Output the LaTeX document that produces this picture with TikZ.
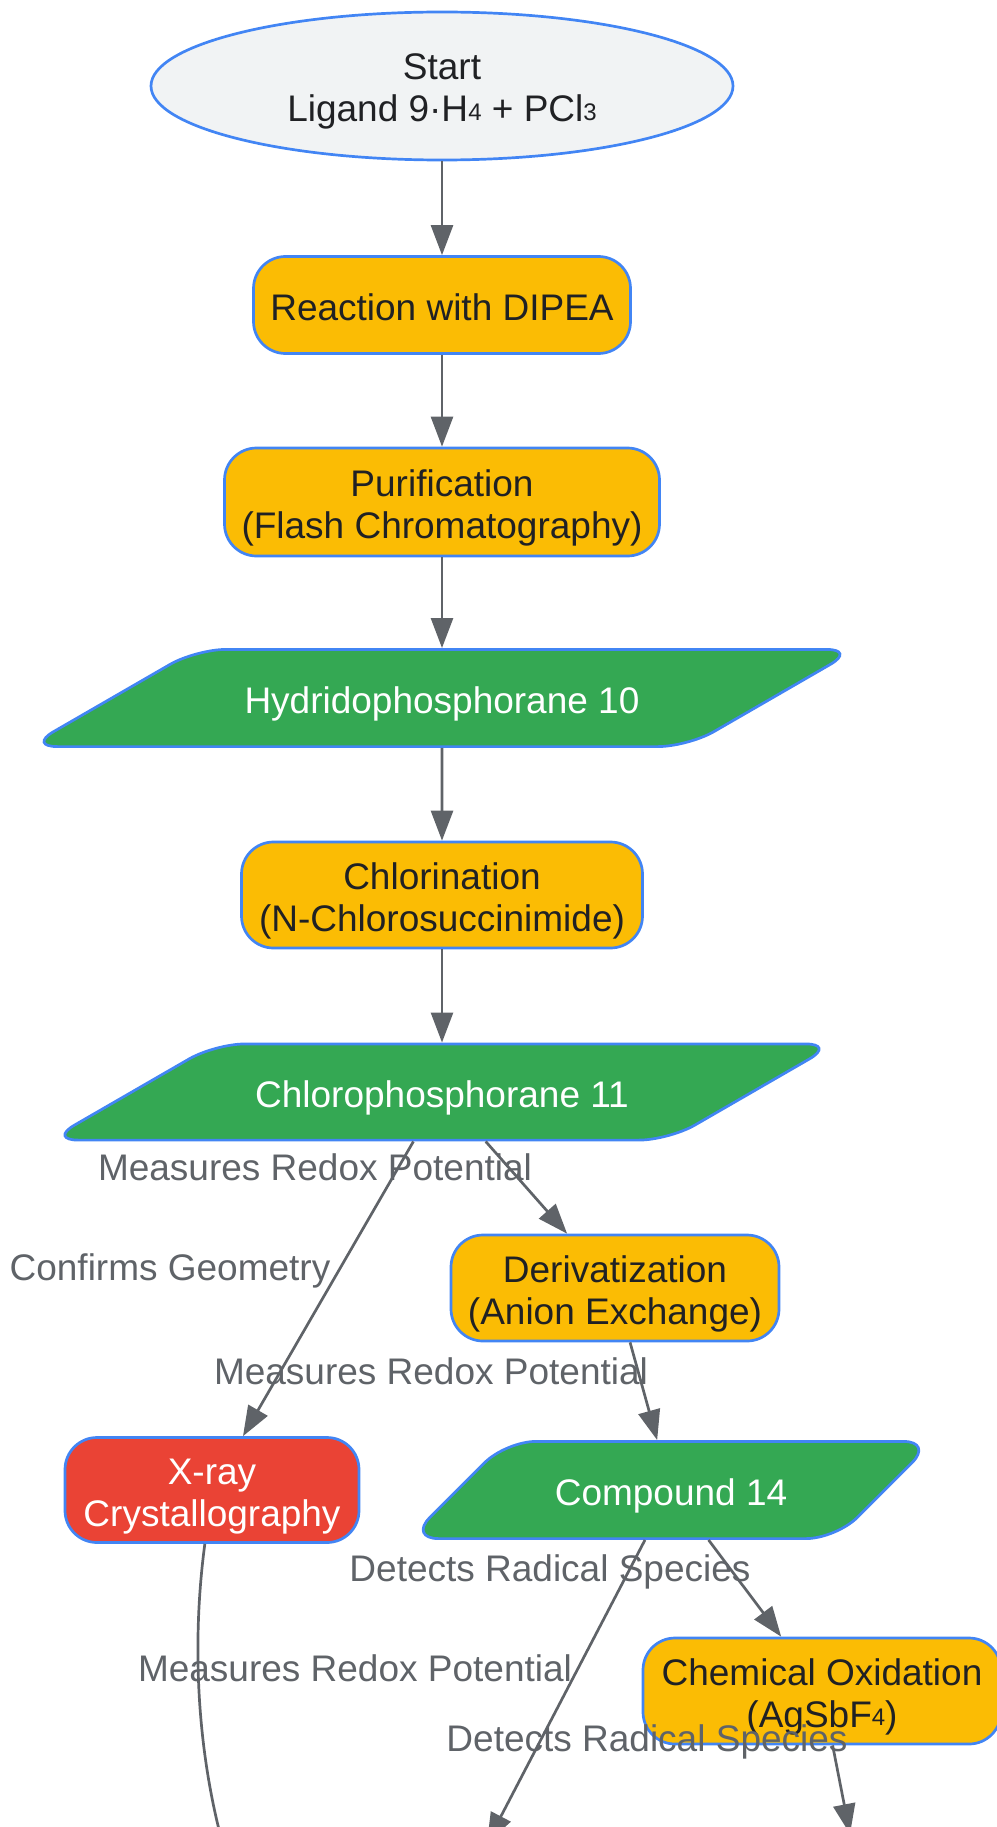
\documentclass[tikz,border=0pt]{standalone}
\usepackage{fontspec}
\setmainfont{Liberation Sans}
\usepackage{tikz}
\usetikzlibrary{arrows.meta,shapes.geometric}

\definecolor{nodeblue}{HTML}{4285F4}
\definecolor{stepyellow}{HTML}{FBBC04}
\definecolor{prodgreen}{HTML}{34A853}
\definecolor{xrayred}{HTML}{EA4335}
\definecolor{startgrey}{HTML}{F1F3F4}
\definecolor{edgegrey}{HTML}{5F6368}
\definecolor{textdark}{HTML}{202124}

\newcommand{\smallsub}[1]{\raisebox{0.1ex}{\fontsize{24}{24}\selectfont #1}}
\newcommand{\linestrut}{\rule[-8.2pt]{0pt}{42pt}}
\newcommand{\onestrut}{\rule[-8pt]{0pt}{46.6pt}}
\newcommand{\twostrut}{\rule[-8pt]{0pt}{88.2pt}}

\begin{document}
\begin{tikzpicture}[->,>={Triangle[length=30pt,width=22pt]},x=1pt,y=-1pt,line width=2.7pt,
  font=\fontsize{37}{42}\selectfont]
  \tikzstyle{every node}=[inner sep=0pt,align=center,execute at begin node=\linestrut]
  \tikzstyle{every edge}=[draw,edgegrey]
  \tikzstyle{startnode}=[ellipse,draw=nodeblue,fill=startgrey,text=textdark,minimum width=582pt,minimum height=148pt,
    execute at begin node=\twostrut]
  \tikzstyle{stepbox}=[rectangle,rounded corners=32pt,draw=nodeblue,fill=stepyellow,text=textdark,minimum height=106pt]
  \tikzstyle{process}=[stepbox,execute at begin node=\twostrut]
  \tikzstyle{product}=[trapezium,trapezium left angle=30,trapezium right angle=150,
    rounded corners=30pt,draw=nodeblue,fill=prodgreen,text=white,inner ysep=25.2pt,execute at begin node=\onestrut]
  \tikzstyle{analysis}=[process,fill=xrayred,text=white]
  \tikzstyle{edgelabel}=[text=edgegrey]

  \useasboundingbox (0,0) rectangle (996,1827);

  \node[startnode] (start) at (442,86) {Start\\Ligand 9·H\smallsub{4} + PCl\smallsub{3}};
  \node[stepbox,minimum width=377pt,minimum height=97pt,execute at begin node=\onestrut] (react) at (442,305) {Reaction with DIPEA};
  \node[process,minimum width=435pt,minimum height=108pt] (purif) at (442,502) {Purification\\(Flash Chromatography)};
  \node[product,inner xsep=48.5pt] (hydrido) at (442,698) {Hydridophosphorane 10};
  \node[process,minimum width=401pt] (chlorin) at (442,895) {Chlorination\\(N-Chlorosuccinimide)};
  \node[product,inner xsep=40pt,inner ysep=24.7pt] (chloro) at (442,1092) {Chlorophosphorane 11};
  \node[process,minimum width=328pt] (deriv) at (615,1288) {Derivatization\\(Anion Exchange)};
  \node[analysis,minimum width=294pt,minimum height=105pt] (xray) at (212,1490) {X-ray\\Crystallography};
  \node[product,trapezium left angle=45,trapezium right angle=135,inner xsep=48.9pt] (cpd) at (671,1490) {Compound 14};
  \node[process,minimum width=358pt] (oxid) at (822,1691) {Chemical Oxidation\\(AgSbF\smallsub{4})};

  \node[edgelabel] (lblredoxa) at (315,1168) {Measures Redox Potential};
  \node[edgelabel] (lblgeom) at (170,1268) {Confirms Geometry};
  \node[edgelabel] (lblredoxb) at (431,1372) {Measures Redox Potential};
  \node[edgelabel] (lblradicala) at (550,1569) {Detects Radical Species};
  \node[edgelabel] (lblredoxc) at (355,1669) {Measures Redox Potential};
  \node[edgelabel] (lblradicalb) at (647,1739) {Detects Radical Species};

  \coordinate (xrayend) at (240,1900);
  \coordinate (cpdend) at (487,1843);
  \coordinate (oxidend) at (850,1834);

  \path (start) edge (react)
        (react) edge (purif)
        (purif) edge (hydrido)
        (hydrido) edge (chlorin)
        (chlorin) edge (chloro)
        (chloro) edge (xray)
        (chloro) edge (deriv)
        (deriv) edge (cpd)
        (cpd) edge (oxid)
        (cpd) edge (cpdend)
        (oxid) edge (oxidend);
  \draw[edgegrey] (xray) .. controls (192,1640) and (195,1760) .. (xrayend);
\end{tikzpicture}
\end{document}
